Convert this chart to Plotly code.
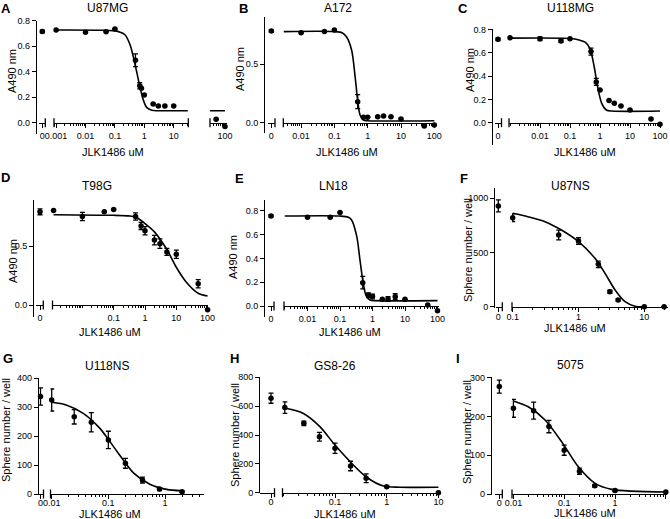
import plotly.graph_objects as go
import math

W, H = 670, 519
FONT = "Arial, 'Liberation Sans', sans-serif"

# ------------------------------------------------------------------
# Data (dose in uM, response values)
# ------------------------------------------------------------------
# A  U87MG
A_zero, A_zero_err = [0.715], [0.01]
A_x = [0.001, 0.01, 0.05, 0.1, 0.5, 0.7, 0.8, 1, 2, 3, 5, 10]
A_y = [0.727, 0.709, 0.714, 0.735, 0.49, 0.29, 0.27, 0.217, 0.147, 0.131, 0.131, 0.131]
A_err = [0, 0, 0, 0, 0.05, 0.025, 0, 0, 0, 0, 0, 0]
A_fit_x = [0.001, 0.05, 0.1, 0.15, 0.22, 0.33, 0.42, 0.55, 0.71, 0.92, 1.2, 1.8, 3, 30]
A_fit_y = [0.727, 0.725, 0.72, 0.71, 0.69, 0.61, 0.52, 0.40, 0.28, 0.18, 0.12, 0.097, 0.094, 0.094]
A_far_x, A_far_y = [50, 100], [0.027, -0.03]
A_far_fit_x, A_far_fit_y = [31, 100], [0.094, 0.094]

# B  A172
B_zero, B_zero_err = [0.785], [0.01]
B_x = [0.01, 0.05, 0.1, 0.5, 0.75, 1, 2, 3, 5, 10, 50, 100]
B_y = [0.77, 0.78, 0.794, 0.18, 0.046, 0.046, 0.05, 0.057, 0.051, 0.032, -0.028, -0.02]
B_err = [0, 0, 0, 0.06, 0, 0, 0, 0, 0, 0, 0, 0]
B_fit_x = [0.003, 0.1, 0.17, 0.23, 0.33, 0.42, 0.5, 0.59, 0.74, 1, 100]
B_fit_y = [0.78, 0.78, 0.77, 0.736, 0.62, 0.39, 0.19, 0.066, 0.023, 0.017, 0.017]

# C  U118MG
C_zero, C_zero_err = [0.715], [0.01]
C_x = [0.001, 0.01, 0.05, 0.1, 0.5, 0.75, 1, 2, 3, 5, 10, 50, 100]
C_y = [0.728, 0.72, 0.70, 0.72, 0.61, 0.35, 0.28, 0.19, 0.166, 0.143, 0.109, 0.032, -0.014]
C_err = [0, 0.015, 0.01, 0, 0.03, 0.03, 0, 0, 0, 0, 0, 0, 0]
C_fit_x = [0.001, 0.1, 0.2, 0.32, 0.46, 0.64, 0.83, 1.14, 1.63, 2.5, 100]
C_fit_y = [0.725, 0.722, 0.71, 0.69, 0.637, 0.48, 0.31, 0.166, 0.109, 0.10, 0.10]

# D  T98G
D_zero, D_zero_err = [0.79], [0.025]
D_x = [0.0012, 0.01, 0.05, 0.1, 0.5, 0.75, 1, 2, 3, 5, 10, 50, 100]
D_y = [0.80, 0.75, 0.79, 0.81, 0.75, 0.67, 0.63, 0.55, 0.52, 0.45, 0.43, 0.18, -0.04]
D_err = [0, 0.035, 0, 0, 0.03, 0.03, 0.035, 0.04, 0.04, 0.03, 0.035, 0.035, 0]
D_fit_x = [0.0012, 0.1, 0.3, 0.5, 1, 2, 5, 10, 20, 50, 100]
D_fit_y = [0.765, 0.76, 0.755, 0.745, 0.69, 0.62, 0.47, 0.32, 0.20, 0.10, 0.076]

# E  LN18
E_zero, E_zero_err = [0.756], [0.01]
E_x = [0.01, 0.05, 0.1, 0.5, 0.75, 1, 2, 3, 5, 10, 50, 100]
E_y = [0.745, 0.745, 0.785, 0.196, 0.09, 0.08, 0.056, 0.058, 0.078, 0.056, 0.008, -0.04]
E_err = [0, 0, 0, 0.053, 0.02, 0.02, 0, 0.02, 0.025, 0, 0, 0]
E_fit_x = [0.002, 0.1, 0.18, 0.23, 0.33, 0.41, 0.5, 0.63, 0.84, 1.2, 100]
E_fit_y = [0.755, 0.755, 0.745, 0.72, 0.58, 0.39, 0.22, 0.09, 0.05, 0.045, 0.045]

# F  U87NS
F_zero, F_zero_err = [930], [55]
F_x = [0.1, 0.5, 1, 2, 3, 4, 10, 20]
F_y = [821, 661, 606, 391, 138, 62, 0, 0]
F_err = [35, 45, 30, 30, 15, 10, 0, 0]
F_fit_x = [0.1, 0.17, 0.31, 0.55, 1.0, 1.78, 2.53, 3.6, 5.1, 7.2, 10]
F_fit_y = [862, 830, 784, 707, 600, 446, 308, 154, 46, 5, 0]

# G  U118NS
G_zero, G_zero_err = [337], [30]
G_x = [0.01, 0.025, 0.05, 0.1, 0.2, 0.4, 0.8, 2]
G_y = [325, 267, 248, 187, 106, 48, 17, 8]
G_err = [38, 25, 33, 30, 17, 10, 5, 3]
G_fit_x = [0.01, 0.018, 0.036, 0.071, 0.14, 0.28, 0.54, 1.07, 2]
G_fit_y = [317, 308, 279, 227, 149, 72, 34, 16, 11]

# H  GS8-26
H_zero, H_zero_err = [655], [35]
H_x = [0.0107, 0.025, 0.05, 0.1, 0.2, 0.4, 1, 10]
H_y = [590, 481, 388, 308, 185, 100, 42, 0]
H_err = [40, 15, 30, 35, 33, 30, 5, 0]
H_fit_x = [0.011, 0.024, 0.051, 0.1, 0.21, 0.41, 0.86, 1.8, 10]
H_fit_y = [585, 551, 458, 330, 204, 107, 46, 38, 38]

# I  5075
I_zero, I_zero_err = [277], [17]
I_x = [0.01, 0.025, 0.05, 0.1, 0.2, 0.4, 1, 10]
I_y = [221, 215, 174, 113, 59, 21, 9, 5]
I_err = [23, 22, 16, 13, 8, 3, 3, 0]
I_fit_x = [0.01, 0.0196, 0.042, 0.089, 0.19, 0.4, 0.86, 10]
I_fit_y = [240, 225, 191, 135, 70, 28, 12, 5]

# ------------------------------------------------------------------
# Panel geometry (pixels in the 670x519 canvas)
# ------------------------------------------------------------------
panels = [
    dict(letter="A", lpos=(6, 8), title="U87MG", tpos=(107, 8), ytitle="A490 nm", ytpos=(12, 71), xtpos=(113, 152),
         yx=36, p0=122.7, ref=(0.8, 20.7), top=20.5, bot=134, yticks=[0, 0.2, 0.4, 0.6, 0.8], yfmt=".1f",
         seg1=(39.3, 45.3, 42.3), segs=[(54, 188.3, 144.3, 29.4, [0.001, 0.01, 0.1, 1, 10]),
                                       (210, 226.5, 166.2, 29.4, [100])],
         zero=A_zero, zero_err=A_zero_err, x=A_x, y=A_y, err=A_err, fx=A_fit_x, fy=A_fit_y,
         far=(A_far_x, A_far_y, A_far_fit_x, A_far_fit_y)),
    dict(letter="B", lpos=(243, 8), title="A172", tpos=(338, 8), ytitle="A490 nm", ytpos=(240, 69), xtpos=(347, 152),
         yx=264.3, p0=122.7, ref=(0.5, 64.3), top=16.7, bot=133.3, yticks=[0, 0.5], yfmt=".1f",
         seg1=(267.7, 275, 271.3), segs=[(283.3, 436, 367.7, 33.3, [0.01, 0.1, 1, 10, 100])],
         zero=B_zero, zero_err=B_zero_err, x=B_x, y=B_y, err=B_err, fx=B_fit_x, fy=B_fit_y),
    dict(letter="C", lpos=(463, 8), title="U118MG", tpos=(570, 8), ytitle="A490 nm", ytpos=(470, 70), xtpos=(585, 152),
         yx=492, p0=122.7, ref=(0.8, 29.4), top=29, bot=145, yticks=[-0.2, 0, 0.2, 0.4, 0.6, 0.8], yfmt=".1f",
         seg1=(494.5, 501.5, 498), segs=[(509, 661, 600, 30, [0.01, 0.1, 1, 10, 100])],
         zero=C_zero, zero_err=C_zero_err, x=C_x, y=C_y, err=C_err, fx=C_fit_x, fy=C_fit_y),
    dict(letter="D", lpos=(5, 177), title="T98G", tpos=(97, 186), ytitle="A490 nm", ytpos=(13, 261), xtpos=(110, 332),
         yx=33.3, p0=305, ref=(0.5, 246), top=200, bot=316.7, yticks=[0, 0.5], yfmt=".1f",
         seg1=(36, 43.3, 40), segs=[(52.5, 208, 145, 31.3, [0.1, 1, 10, 100])],
         zero=D_zero, zero_err=D_zero_err, x=D_x, y=D_y, err=D_err, fx=D_fit_x, fy=D_fit_y),
    dict(letter="E", lpos=(239, 178), title="LN18", tpos=(333, 186), ytitle="A490 nm", ytpos=(233, 257), xtpos=(350, 332),
         yx=264.3, p0=306, ref=(0.8, 210.7), top=200, bot=316.7, yticks=[0, 0.2, 0.4, 0.6, 0.8], yfmt=".1f",
         seg1=(267.7, 274, 271), segs=[(284, 439, 372.5, 32.5, [0.01, 0.1, 1, 10, 100])],
         zero=E_zero, zero_err=E_zero_err, x=E_x, y=E_y, err=E_err, fx=E_fit_x, fy=E_fit_y),
    dict(letter="F", lpos=(464, 178), title="U87NS", tpos=(570, 186), ytitle="Sphere number / well", ytpos=(468, 250),
         xtpos=(575, 328), standoff=-3,
         yx=494.3, p0=306.7, ref=(1000, 198.3), top=188.3, bot=308, yticks=[0, 500, 1000], yfmt="d",
         seg1=(495.5, 502.3, 498.3), segs=[(512, 668, 578.5, 65.8, [0.1, 1, 10])],
         zero=F_zero, zero_err=F_zero_err, x=F_x, y=F_y, err=F_err, fx=F_fit_x, fy=F_fit_y),
    dict(letter="G", lpos=(8, 358), title="U118NS", tpos=(107, 366), ytitle="Sphere number / well", ytpos=(6, 430),
         xtpos=(110, 514), standoff=-4,
         yx=38, p0=494, ref=(400, 378.3), top=378, bot=494.5, yticks=[0, 100, 200, 300, 400], yfmt="d",
         seg1=(38.5, 43.5, 40.5), segs=[(50.5, 204, 165, 56.65, [0.01, 0.1, 1])],
         zero=G_zero, zero_err=G_zero_err, x=G_x, y=G_y, err=G_err, fx=G_fit_x, fy=G_fit_y),
    dict(letter="H", lpos=(234, 358), title="GS8-26", tpos=(335, 366), ytitle="Sphere number / well", ytpos=(235, 435),
         xtpos=(345, 514), standoff=-4,
         yx=259.3, p0=492.7, ref=(800, 377.3), top=377, bot=493, yticks=[0, 200, 400, 600, 800], yfmt="d",
         seg1=(259.5, 274.5, 271), segs=[(282.5, 439, 386.7, 51.7, [0.1, 1, 10])],
         zero=H_zero, zero_err=H_zero_err, x=H_x, y=H_y, err=H_err, fx=H_fit_x, fy=H_fit_y),
    dict(letter="I", lpos=(458, 358), title="5075", tpos=(570, 365), ytitle="Sphere number / well", ytpos=(467, 432),
         xtpos=(585, 513), standoff=-4,
         yx=491, p0=494, ref=(300, 377.7), top=377, bot=494.5, yticks=[0, 100, 200, 300], yfmt="d",
         seg1=(495, 502.3, 499.3), segs=[(512, 666.5, 615, 50.8, [0.01, 0.1, 1, 10])],
         zero=I_zero, zero_err=I_zero_err, x=I_x, y=I_y, err=I_err, fx=I_fit_x, fy=I_fit_y),
]

LINE_W = 1.3
axis_common = dict(showgrid=False, zeroline=False, showline=True, linecolor="black", linewidth=LINE_W,
                   ticks="outside", ticklen=4, tickwidth=LINE_W, tickcolor="black",
                   tickfont=dict(family=FONT, size=9, color="black"), automargin=False, fixedrange=True)

fig = go.Figure()
layout = {}
annotations = []
shapes = []
xcount = 0


def label_tick(v):
    return "%g" % v


def minor_vals(lo, hi, majors):
    vals = []
    for k in range(math.floor(lo) - 1, math.ceil(hi) + 1):
        for m in range(1, 10):
            v = m * 10 ** k
            lv = math.log10(v)
            if lo - 1e-9 <= lv <= hi + 1e-9 and not any(abs(v - t) / t < 1e-6 for t in majors):
                vals.append(v)
    return vals


def new_xaxis():
    global xcount
    xcount += 1
    key = "xaxis" if xcount == 1 else "xaxis%d" % xcount
    ref = "x" if xcount == 1 else "x%d" % xcount
    return key, ref


def break_mark(ref, side, pos):
    shapes.append(dict(type="line", xref=ref + " domain", x0=side, x1=side, yref="paper",
                       y0=pos - 4.5 / H, y1=pos + 4.5 / H, line=dict(color="black", width=LINE_W)))


for i, p in enumerate(panels, start=1):
    ykey = "yaxis" if i == 1 else "yaxis%d" % i
    yref = "y" if i == 1 else "y%d" % i
    v1, p1 = p["ref"]
    s = (p["p0"] - p1) / v1
    yr = [(p["p0"] - p["bot"]) / s, (p["p0"] - p["top"]) / s]
    layout[ykey] = dict(axis_common, domain=[1 - p["bot"] / H, 1 - p["top"] / H], range=yr,
                        anchor="free", position=p["yx"] / W, tickvals=p["yticks"], tickformat=p["yfmt"])
    xpos = 1 - p["p0"] / H
    so = p.get("standoff", 0)

    # zero segment (linear)
    a, b, z = p["seg1"]
    k, r = new_xaxis()
    layout[k] = dict(axis_common, domain=[a / W, b / W], range=[a - z, b - z], type="linear",
                     anchor="free", position=xpos, tickvals=[0], ticktext=["0"], ticklabelstandoff=so)
    break_mark(r, 1, xpos)
    fig.add_trace(go.Scatter(x=[0] * len(p["zero"]), y=p["zero"], xaxis=r, yaxis=yref, mode="markers",
                             marker=dict(color="black", size=5.5), cliponaxis=False,
                             error_y=dict(type="data", array=p["zero_err"], color="black",
                                          thickness=LINE_W, width=2.5)))

    # log segments
    for j, (sa, sb, one, dec, ticks) in enumerate(p["segs"]):
        k, r = new_xaxis()
        lo, hi = (sa - one) / dec, (sb - one) / dec
        layout[k] = dict(axis_common, domain=[sa / W, sb / W], range=[lo, hi], type="log",
                         anchor="free", position=xpos, tickvals=ticks, ticktext=[label_tick(t) for t in ticks],
                         ticklabelstandoff=so,
                         minor=dict(tickvals=minor_vals(lo, hi, ticks), ticks="outside", ticklen=2,
                                    tickwidth=1, tickcolor="black"))
        break_mark(r, 0, xpos)
        if j < len(p["segs"]) - 1:
            break_mark(r, 1, xpos)
        if j == 0:
            fx, fy, xs, ys, es = p["fx"], p["fy"], p["x"], p["y"], p["err"]
        else:
            xs, ys, fx, fy = p["far"]
            es = [0] * len(xs)
        fig.add_trace(go.Scatter(x=fx, y=fy, xaxis=r, yaxis=yref, mode="lines",
                                 line=dict(color="black", width=1.6, shape="spline", smoothing=0.8),
                                 cliponaxis=False))
        fig.add_trace(go.Scatter(x=xs, y=ys, xaxis=r, yaxis=yref, mode="markers",
                                 marker=dict(color="black", size=5.5), cliponaxis=False,
                                 error_y=dict(type="data", array=es, color="black",
                                              thickness=LINE_W, width=2.5)))

    # texts
    annotations.append(dict(text="<b>%s</b>" % p["letter"], x=p["lpos"][0] / W, y=1 - p["lpos"][1] / H,
                            xref="paper", yref="paper", showarrow=False, xanchor="center", yanchor="middle",
                            font=dict(family=FONT, size=13, color="black")))
    annotations.append(dict(text=p["title"], x=p["tpos"][0] / W, y=1 - p["tpos"][1] / H,
                            xref="paper", yref="paper", showarrow=False, xanchor="center", yanchor="middle",
                            font=dict(family=FONT, size=12, color="black")))
    annotations.append(dict(text=p["ytitle"], x=p["ytpos"][0] / W, y=1 - p["ytpos"][1] / H, textangle=-90,
                            xref="paper", yref="paper", showarrow=False, xanchor="center", yanchor="middle",
                            font=dict(family=FONT, size=11, color="black")))
    annotations.append(dict(text="JLK1486 uM", x=p["xtpos"][0] / W, y=1 - p["xtpos"][1] / H,
                            xref="paper", yref="paper", showarrow=False, xanchor="center", yanchor="middle",
                            font=dict(family=FONT, size=11, color="black")))

fig.update_layout(width=W, height=H, margin=dict(l=0, r=0, t=0, b=0), showlegend=False,
                  paper_bgcolor="white", plot_bgcolor="rgba(0,0,0,0)",
                  annotations=annotations, shapes=shapes, **layout)
fig.write_html("out.html", config={"displayModeBar": False},
               post_script="document.body.style.margin='0px';document.body.style.overflow='hidden';")
